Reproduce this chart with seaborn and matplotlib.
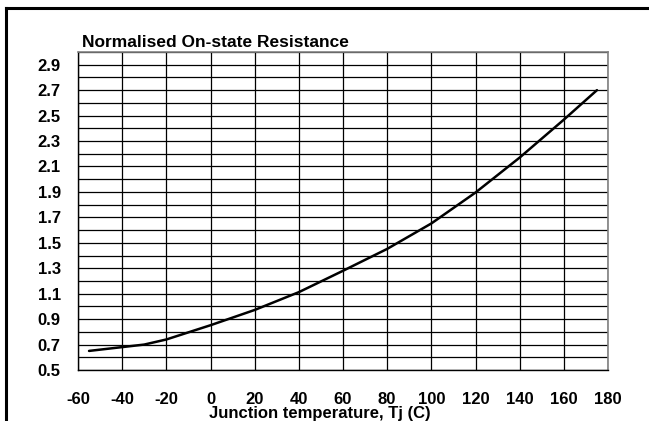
import matplotlib
matplotlib.use("Agg")
import matplotlib.pyplot as plt
import seaborn as sns
import numpy as np
import pandas as pd
from matplotlib.ticker import FixedLocator

# Data
temperature = [-55, -40, -30, -20, 0, 20, 40, 60, 80, 100, 120, 140, 160, 175]
resistance = [0.65, 0.68, 0.70, 0.74, 0.852, 0.972, 1.112, 1.28, 1.452, 1.652, 1.895, 2.17, 2.468, 2.70]
x_ticks = [-60, -40, -20, 0, 20, 40, 60, 80, 100, 120, 140, 160, 180]
y_ticks = [0.5, 0.7, 0.9, 1.1, 1.3, 1.5, 1.7, 1.9, 2.1, 2.3, 2.5, 2.7, 2.9]
y_minor = [0.6, 0.8, 1.0, 1.2, 1.4, 1.6, 1.8, 2.0, 2.2, 2.4, 2.6, 2.8, 3.0]
title = "Normalised On-state Resistance"
xlabel = "Junction temperature, Tj (C)"

sns.set_style("white")
plt.rcParams['font.family'] = ['Liberation Sans', 'DejaVu Sans']

W, H = 649, 421
fig = plt.figure(figsize=(W / 100, H / 100), dpi=100)
left, right, top, bottom = 78, 608, 52, 370
ax = fig.add_axes([left / W, 1 - bottom / H, (right - left) / W, (bottom - top) / H])

df = pd.DataFrame({"T": temperature, "R": resistance})
sns.lineplot(data=df, x="T", y="R", ax=ax, color="black", linewidth=1.8)

ax.set_xlim(-60, 180)
ax.set_ylim(0.5, 3.0)
ax.xaxis.set_major_locator(FixedLocator(x_ticks))
ax.yaxis.set_major_locator(FixedLocator(y_ticks))
ax.yaxis.set_minor_locator(FixedLocator(y_minor))
ax.set_xticklabels([str(v) for v in x_ticks])
ax.set_yticklabels([f"{v:.1f}" for v in y_ticks])

ax.grid(True, which="both", color="black", linewidth=0.9)
ax.set_axisbelow(True)
ax.tick_params(axis="both", which="major", direction="out", length=6, width=1,
               color="black", labelsize=12, labelcolor="black")
ax.tick_params(axis="y", which="major", pad=6.5)
ax.tick_params(axis="x", which="major", pad=10)
ax.tick_params(axis="y", which="minor", length=0)
for lbl in ax.get_xticklabels() + ax.get_yticklabels():
    lbl.set_fontweight("bold")

for s in ["left", "bottom"]:
    ax.spines[s].set_color("black")
    ax.spines[s].set_linewidth(1.0)
for s in ["top", "right"]:
    ax.spines[s].set_color("#808080")
    ax.spines[s].set_linewidth(1.2)

ax.set_xlabel("")
ax.set_ylabel("")

fig.text(82 / W, 1 - 47 / H, title, fontsize=12.5, fontweight="bold",
         ha="left", va="baseline", color="black")
fig.text(320 / W, 1 - 406 / H, xlabel, fontsize=12, fontweight="bold",
         ha="center", va="top", color="black")

# outer frame (left and top edges visible in the crop)
fig.add_artist(plt.Line2D([5.5 / W, 5.5 / W], [0, 1 - 7.5 / H], transform=fig.transFigure,
                          color="black", linewidth=2.2, solid_capstyle="projecting"))
fig.add_artist(plt.Line2D([5.5 / W, 1.0], [1 - 7.5 / H, 1 - 7.5 / H], transform=fig.transFigure,
                          color="black", linewidth=2.2, solid_capstyle="projecting"))

fig.savefig("out.png", dpi=100)
